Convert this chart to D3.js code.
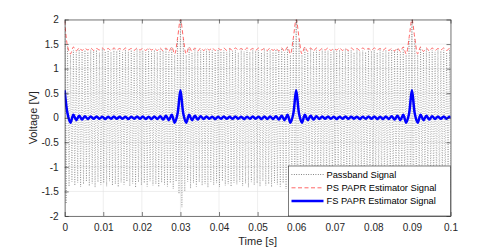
<!DOCTYPE html>
<meta charset="utf-8">
<style>
body { margin: 0; background: #fff; }
svg { font-family: "Liberation Sans", Arial, sans-serif; }
.grid line { stroke: #e3e3e3; stroke-width: 0.6px; }
.axis path, .axis line { stroke: #262626; stroke-width: 0.6px; }
.axis text { fill: #262626; font-size: 10px; }
.label { fill: #262626; font-size: 11px; }
.legend text { fill: #000; font-size: 9.3px; }
</style>
<body>
<script src="https://d3js.org/d3.v7.min.js"></script>
<script>
// sample step of the stored series [s]
var dt = 0.00075;

var xTicks = [0, 0.01, 0.02, 0.03, 0.04, 0.05, 0.06, 0.07, 0.08, 0.09, 0.1];
var xTickLabels = ["0", "0.01", "0.02", "0.03", "0.04", "0.05", "0.06", "0.07", "0.08", "0.09", "0.1"];
var yTicks = [-2, -1.5, -1, -0.5, 0, 0.5, 1, 1.5, 2];
var yTickLabels = ["-2", "-1.5", "-1", "-0.5", "0", "0.5", "1", "1.5", "2"];

var seriesNames = ["Passband Signal", "PS PAPR Estimator Signal", "FS PAPR Estimator Signal"];

// passband signal: upper and lower peak of each carrier cycle
var passHi = [
  1.90, 1.45, 1.28, 1.38, 1.33, 1.39, 1.35, 1.38, 1.34, 1.39,
  1.36, 1.38, 1.33, 1.40, 1.35, 1.37, 1.34, 1.39, 1.36, 1.38,
  1.33, 1.39, 1.35, 1.38, 1.34, 1.40, 1.36, 1.37, 1.33, 1.39,
  1.35, 1.38, 1.34, 1.39, 1.36, 1.41, 1.33, 1.43, 1.28, 1.60,
  1.99, 1.60, 1.28, 1.43, 1.33, 1.40, 1.35, 1.38, 1.34, 1.39,
  1.36, 1.38, 1.33, 1.39, 1.35, 1.37, 1.34, 1.40, 1.36, 1.38,
  1.33, 1.39, 1.35, 1.38, 1.34, 1.39, 1.36, 1.37, 1.33, 1.40,
  1.35, 1.38, 1.34, 1.39, 1.36, 1.41, 1.33, 1.43, 1.28, 1.60,
  1.99, 1.60, 1.28, 1.43, 1.33, 1.40, 1.35, 1.38, 1.34, 1.39,
  1.36, 1.37, 1.33, 1.39, 1.35, 1.38, 1.34, 1.40, 1.36, 1.38,
  1.33, 1.39, 1.35, 1.37, 1.34, 1.39, 1.36, 1.38, 1.33, 1.40,
  1.35, 1.38, 1.34, 1.39, 1.36, 1.41, 1.33, 1.43, 1.28, 1.60,
  1.99, 1.60, 1.28, 1.43, 1.33, 1.40, 1.35, 1.38, 1.34, 1.39,
  1.36, 1.38, 1.33, 1.39, 1.35
];
var passLo = [
  -1.75, -1.40, -1.30, -1.38, -1.32, -1.41, -1.35, -1.30, -1.39, -1.34,
  -1.42, -1.31, -1.37, -1.33, -1.40, -1.29, -1.38, -1.35, -1.41, -1.32,
  -1.36, -1.30, -1.39, -1.34, -1.42, -1.31, -1.37, -1.33, -1.40, -1.29,
  -1.38, -1.35, -1.41, -1.32, -1.36, -1.40, -1.33, -1.45, -1.30, -1.55,
  -1.82, -1.50, -1.30, -1.44, -1.33, -1.40, -1.31, -1.38, -1.35, -1.42,
  -1.30, -1.37, -1.33, -1.41, -1.29, -1.38, -1.35, -1.40, -1.32, -1.36,
  -1.30, -1.39, -1.34, -1.42, -1.31, -1.37, -1.33, -1.40, -1.29, -1.38,
  -1.35, -1.41, -1.32, -1.36, -1.40, -1.33, -1.45, -1.30, -1.55, -1.50,
  -1.80, -1.52, -1.30, -1.44, -1.33, -1.40, -1.31, -1.38, -1.35, -1.42,
  -1.30, -1.37, -1.33, -1.41, -1.29, -1.38, -1.35, -1.40, -1.32, -1.36,
  -1.30, -1.39, -1.34, -1.42, -1.31, -1.37, -1.33, -1.40, -1.29, -1.38,
  -1.35, -1.41, -1.32, -1.36, -1.40, -1.33, -1.45, -1.30, -1.55, -1.50,
  -1.80, -1.52, -1.30, -1.44, -1.33, -1.40, -1.31, -1.38, -1.35, -1.42,
  -1.30, -1.37, -1.33, -1.41, -1.29
];

// PS PAPR estimator (red dashed)
var psEst = [
  1.97, 1.45, 1.30, 1.44, 1.36, 1.42, 1.37, 1.41, 1.38, 1.42,
  1.37, 1.41, 1.38, 1.42, 1.37, 1.41, 1.37, 1.42, 1.38, 1.41,
  1.37, 1.42, 1.38, 1.41, 1.37, 1.42, 1.38, 1.41, 1.37, 1.42,
  1.38, 1.41, 1.37, 1.42, 1.36, 1.42, 1.35, 1.44, 1.30, 1.62,
  2.00, 1.62, 1.30, 1.44, 1.35, 1.42, 1.36, 1.42, 1.37, 1.41,
  1.38, 1.42, 1.37, 1.41, 1.38, 1.42, 1.37, 1.41, 1.37, 1.42,
  1.38, 1.41, 1.37, 1.42, 1.38, 1.41, 1.37, 1.42, 1.38, 1.41,
  1.37, 1.42, 1.37, 1.41, 1.36, 1.42, 1.35, 1.44, 1.30, 1.62,
  2.00, 1.62, 1.30, 1.44, 1.35, 1.42, 1.36, 1.42, 1.37, 1.41,
  1.38, 1.42, 1.37, 1.41, 1.38, 1.42, 1.37, 1.41, 1.37, 1.42,
  1.38, 1.41, 1.37, 1.42, 1.38, 1.41, 1.37, 1.42, 1.38, 1.41,
  1.37, 1.42, 1.37, 1.41, 1.36, 1.42, 1.35, 1.44, 1.30, 1.62,
  2.00, 1.62, 1.30, 1.44, 1.35, 1.42, 1.36, 1.42, 1.37, 1.41,
  1.38, 1.42, 1.37, 1.41, 1.38
];

// FS PAPR estimator (blue)
var fsEst = [
  0.56, 0.08, -0.10, 0.06, -0.05, 0.04, -0.035, 0.03, -0.025, 0.025,
  -0.02, 0.025, -0.02, 0.02, -0.025, 0.02, -0.02, 0.025, -0.02, 0.02,
  -0.02, 0.02, -0.025, 0.02, -0.02, 0.025, -0.02, 0.025, -0.025, 0.02,
  -0.025, 0.025, -0.025, 0.03, -0.035, 0.04, -0.05, 0.06, -0.10, 0.08,
  0.56, 0.08, -0.10, 0.06, -0.05, 0.04, -0.035, 0.03, -0.025, 0.025,
  -0.02, 0.02, -0.025, 0.02, -0.02, 0.025, -0.02, 0.02, -0.02, 0.025,
  -0.02, 0.02, -0.025, 0.02, -0.02, 0.025, -0.02, 0.02, -0.025, 0.025,
  -0.025, 0.025, -0.025, 0.03, -0.035, 0.04, -0.05, 0.06, -0.10, 0.08,
  0.56, 0.08, -0.10, 0.06, -0.05, 0.04, -0.035, 0.03, -0.025, 0.025,
  -0.02, 0.025, -0.02, 0.02, -0.025, 0.02, -0.02, 0.025, -0.02, 0.02,
  -0.02, 0.02, -0.025, 0.02, -0.02, 0.025, -0.02, 0.025, -0.025, 0.02,
  -0.025, 0.025, -0.025, 0.03, -0.035, 0.04, -0.05, 0.06, -0.10, 0.08,
  0.56, 0.08, -0.10, 0.06, -0.05, 0.04, -0.035, 0.03, -0.025, 0.025,
  -0.02, 0.025, -0.02, 0.02, -0.025
];

/* dimensions */
var W = 498, H = 249;
var margin = {top: 19.5, right: 47.5, bottom: 33, left: 64.7},
    width = W - margin.left - margin.right,
    height = H - margin.top - margin.bottom;

var x = d3.scaleLinear().domain([0, 0.1]).range([0, width]);
var y = d3.scaleLinear().domain([-2, 2]).range([height, 0]);

var svg = d3.select("body").append("svg")
    .attr("width", W)
    .attr("height", H)
  .append("g")
    .attr("transform", "translate(" + margin.left + "," + margin.top + ")");

svg.append("clipPath").attr("id", "clip")
  .append("rect").attr("width", width).attr("height", height);

// grid
var grid = svg.append("g").attr("class", "grid");
grid.selectAll(".gx").data(xTicks).enter().append("line")
    .attr("x1", function(d) { return x(d); }).attr("x2", function(d) { return x(d); })
    .attr("y1", 0).attr("y2", height);
grid.selectAll(".gy").data(yTicks).enter().append("line")
    .attr("y1", function(d) { return y(d); }).attr("y2", function(d) { return y(d); })
    .attr("x1", 0).attr("x2", width);

var plot = svg.append("g").attr("clip-path", "url(#clip)");

// passband: zigzag through the peaks of each cycle
var passPts = [];
passHi.forEach(function(v, i) {
  passPts.push([i * dt, v]);
  passPts.push([(i + 0.5) * dt, passLo[i]]);
});
var line = d3.line()
    .x(function(d) { return x(d[0]); })
    .y(function(d) { return y(d[1]); });

plot.append("path")
    .attr("d", line(passPts))
    .attr("fill", "none")
    .attr("stroke", "#000")
    .attr("stroke-opacity", 0.7)
    .attr("stroke-width", 0.5)
    .attr("stroke-dasharray", "0.8,1.6");

var smooth = d3.line()
    .x(function(d, i) { return x(i * dt); })
    .y(function(d) { return y(d); })
    .curve(d3.curveCatmullRom);

plot.append("path")
    .attr("d", smooth(psEst))
    .attr("fill", "none")
    .attr("stroke", "#ff4040")
    .attr("stroke-width", 0.8)
    .attr("stroke-dasharray", "4,2.5");

plot.append("path")
    .attr("d", smooth(fsEst))
    .attr("fill", "none")
    .attr("stroke", "#0000ff")
    .attr("stroke-width", 2.5)
    .attr("stroke-linejoin", "round");

// axes with inward ticks on all four sides
svg.append("g").attr("class", "axis")
    .attr("transform", "translate(0," + height + ")")
    .call(d3.axisBottom(x).tickValues(xTicks).tickSize(-4).tickSizeOuter(0).tickPadding(8)
      .tickFormat(function(d, i) { return xTickLabels[i]; }));
svg.append("g").attr("class", "axis")
    .call(d3.axisTop(x).tickValues(xTicks).tickSize(-4).tickSizeOuter(0).tickFormat(""));
svg.append("g").attr("class", "axis")
    .call(d3.axisLeft(y).tickValues(yTicks).tickSize(-4).tickSizeOuter(0).tickPadding(6)
      .tickFormat(function(d, i) { return yTickLabels[i]; }));
svg.append("g").attr("class", "axis")
    .attr("transform", "translate(" + width + ",0)")
    .call(d3.axisRight(y).tickValues(yTicks).tickSize(-4).tickSizeOuter(0).tickFormat(""));

// axis labels
svg.append("text").attr("class", "label")
    .attr("x", width / 2).attr("y", height + 29)
    .attr("text-anchor", "middle")
    .text("Time [s]");
svg.append("text").attr("class", "label")
    .attr("transform", "translate(-28," + (height / 2) + ") rotate(-90)")
    .attr("text-anchor", "middle")
    .text("Voltage [V]");

// legend
var lg = svg.append("g").attr("class", "legend")
    .attr("transform", "translate(" + (width - 162) + "," + (height - 50) + ")");
lg.append("rect")
    .attr("width", 162).attr("height", 50)
    .attr("fill", "#fff").attr("stroke", "#262626").attr("stroke-width", 0.6);
var styles = [
  {stroke: "#000", w: 0.6, dash: "0.8,1.6"},
  {stroke: "#ff4040", w: 0.8, dash: "4,2.5"},
  {stroke: "#0000ff", w: 2.5, dash: null}
];
seriesNames.forEach(function(name, i) {
  var yy = 8.5 + i * 13.3;
  lg.append("line")
      .attr("x1", 3).attr("x2", 35).attr("y1", yy).attr("y2", yy)
      .attr("stroke", styles[i].stroke)
      .attr("stroke-width", styles[i].w)
      .attr("stroke-dasharray", styles[i].dash);
  lg.append("text")
      .attr("x", 38).attr("y", yy + 3.3)
      .text(name);
});
</script>
</body>
